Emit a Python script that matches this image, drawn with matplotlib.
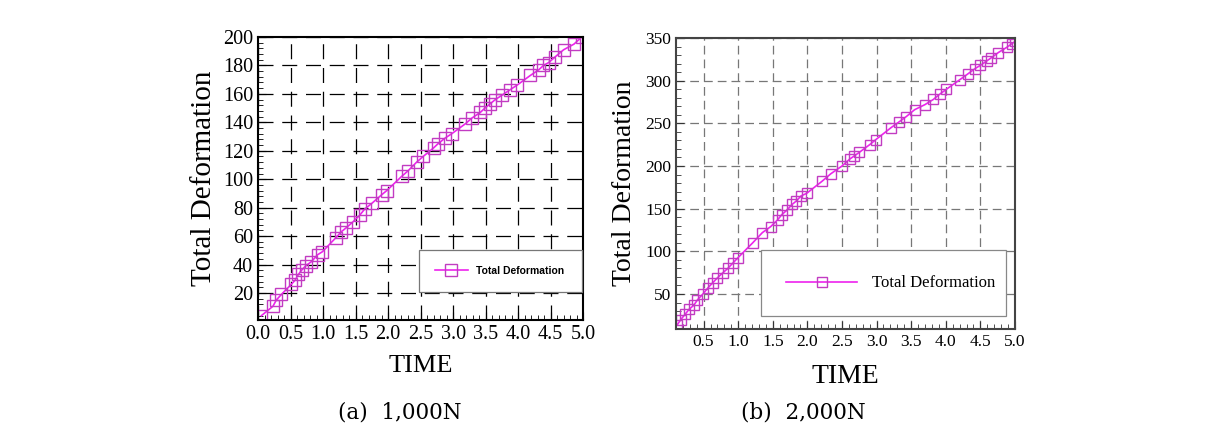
import numpy as np
import matplotlib
matplotlib.use("Agg")
import matplotlib.pyplot as plt
from matplotlib.ticker import MultipleLocator

plt.rcParams['font.family'] = ['Liberation Serif', 'DejaVu Serif']

# (a) 1,000N
t_a = [0.05, 0.23, 0.28, 0.36, 0.51, 0.57, 0.62, 0.67, 0.73, 0.82, 0.92, 0.99,
       1.20, 1.28, 1.36, 1.46, 1.57, 1.64, 1.75, 1.90, 1.98, 2.21, 2.31, 2.44,
       2.54, 2.70, 2.77, 2.88, 2.98, 3.19, 3.29, 3.42, 3.49, 3.57, 3.65, 3.75,
       3.88, 3.98, 4.19, 4.32, 4.39, 4.47, 4.57, 4.70, 4.86, 4.98]
d_a = [4, 10.7, 15, 19, 26, 29, 33, 36, 39, 42, 47, 49,
       59, 63, 66, 70, 75, 79, 83, 89, 92, 102, 106, 112,
       116, 122, 125, 129, 132, 139, 143, 147, 150, 153, 156, 159,
       163, 166, 173, 177, 180, 182, 186, 191, 195, 200]

# (b) 2,000N
t_b = [0.12, 0.17, 0.23, 0.29, 0.36, 0.41, 0.49, 0.56, 0.63, 0.70, 0.78, 0.85,
       0.92, 0.99, 1.21, 1.35, 1.47, 1.57, 1.63, 1.70, 1.78, 1.84, 1.91, 1.99,
       2.21, 2.34, 2.50, 2.61, 2.68, 2.75, 2.90, 2.99, 3.21, 3.33, 3.43, 3.55,
       3.70, 3.82, 3.91, 4.01, 4.20, 4.32, 4.42, 4.50, 4.59, 4.66, 4.76, 4.88,
       4.95, 5.0]
d_b = [14, 20, 26, 32, 37, 43, 50, 57, 63, 69, 75, 80,
       86, 92, 110, 122, 129, 137, 143, 148, 155, 159, 165, 168,
       182, 191, 200, 208, 212, 216, 225, 231, 245, 252, 258, 266,
       272, 278, 284, 290, 301, 308, 314, 318, 323, 327, 333, 339,
       343, 346]

line_col = '#ee22ee'
mark_col = '#c23cc2'

fig = plt.figure(figsize=(12.07, 4.33), dpi=100)

# left panel
ax1 = fig.add_axes([0.2138, 0.261, 0.2693, 0.6536])
ax1.plot(t_a, d_a, color=line_col, lw=1.2, marker='s', ms=8.5, mfc='none',
         mec=mark_col, mew=1.0, label='Total Deformation')
ax1.set_xlim(0, 5)
ax1.set_ylim(1, 200)
xt_a = np.arange(0, 5.01, 0.5)
ax1.set_xticks(xt_a)
ax1.set_xticklabels([f"{v:.1f}" for v in xt_a])
ax1.xaxis.set_minor_locator(MultipleLocator(0.1))
ax1.set_yticks(np.arange(20, 201, 20))
ax1.yaxis.set_minor_locator(MultipleLocator(4))
ax1.grid(True, which='major', color='black', ls=(0, (12, 7)), lw=0.9)
ax1.tick_params(which='both', direction='in', labelsize=14.5)
ax1.tick_params(which='major', length=6)
ax1.tick_params(which='minor', length=3.5)
for s in ax1.spines.values():
    s.set_linewidth(1.5)
ax1.set_xlabel('TIME', fontsize=19, labelpad=8)
ax1.set_ylabel('Total Deformation', fontsize=21, labelpad=4)
leg1 = ax1.legend(loc='center', bbox_to_anchor=(0.495, 0.092, 0.503, 0.162),
                  mode='expand', fancybox=False, edgecolor='#777777', framealpha=1,
                  borderpad=1.5, handlelength=3.2, handletextpad=0.8, borderaxespad=0,
                  prop={'family': ['Liberation Sans'], 'weight': 'bold', 'size': 7.5})
leg1.get_frame().set_linewidth(0.9)

# right panel
ax2 = fig.add_axes([0.560, 0.2402, 0.2809, 0.672])
ax2.plot(t_b, d_b, color=line_col, lw=1.2, marker='s', ms=6.5, mfc='none',
         mec=mark_col, mew=1.0, label='Total Deformation')
ax2.set_xlim(0.1, 5.0)
ax2.set_ylim(9, 350)
xt_b = np.arange(0.5, 5.01, 0.5)
ax2.set_xticks(xt_b)
ax2.set_xticklabels([f"{v:.1f}" for v in xt_b])
ax2.xaxis.set_minor_locator(MultipleLocator(0.1))
ax2.set_yticks(np.arange(50, 351, 50))
ax2.yaxis.set_minor_locator(MultipleLocator(10))
ax2.grid(True, which='major', color='#777777', ls=(0, (7, 4)), lw=0.9)
ax2.tick_params(which='both', direction='in', labelsize=12.5, color='#333333')
ax2.tick_params(which='major', length=6)
ax2.tick_params(which='minor', length=3.5)
for s in ax2.spines.values():
    s.set_linewidth(1.5)
    s.set_color('#444444')
ax2.set_xlabel('TIME', fontsize=20, labelpad=10)
ax2.set_ylabel('Total Deformation', fontsize=20, labelpad=6)
leg2 = ax2.legend(loc='center', bbox_to_anchor=(0.25, 0.038, 0.723, 0.237),
                  mode='expand', fancybox=False, edgecolor='#888888', framealpha=1,
                  borderpad=1.5, handlelength=4.3, handletextpad=0.9, borderaxespad=0,
                  prop={'size': 12})
leg2.get_frame().set_linewidth(0.9)

fig.text(400 / 1207, 1 - 413 / 433, '(a)  1,000N', ha='center', va='center',
         fontsize=15.5, family=['DejaVu Serif'])
fig.text(803 / 1207, 1 - 413 / 433, '(b)  2,000N', ha='center', va='center',
         fontsize=15.5, family=['DejaVu Serif'])

fig.savefig('out.png', dpi=100)
